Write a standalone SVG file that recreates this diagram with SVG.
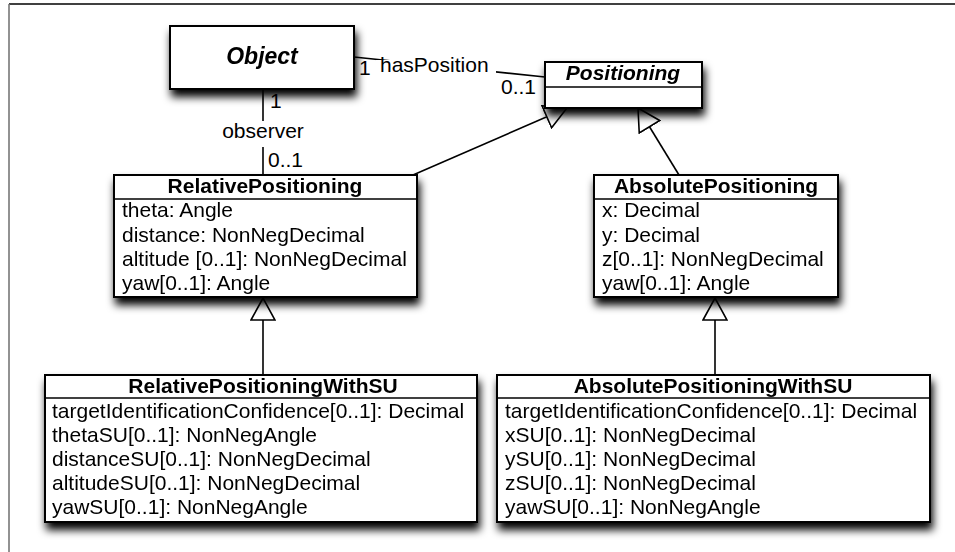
<svg xmlns="http://www.w3.org/2000/svg" width="955" height="552" viewBox="0 0 955 552">
  <defs>
    <style>
      .box { fill: #ffffff; stroke: #000000; stroke-width: 2; }
      .sep { stroke: #000000; stroke-width: 1.6; }
      .title { font-family: "Liberation Sans", Arial, sans-serif; font-size: 21px; font-weight: bold; text-anchor: middle; fill: #000; }
      .abstract { font-style: italic; }
      .attr { font-family: "Liberation Sans", Arial, sans-serif; font-size: 21px; fill: #000; }
      .lbl { font-family: "Liberation Sans", Arial, sans-serif; font-size: 21px; fill: #000; }
      .edge { stroke: #000000; stroke-width: 1.6; fill: none; }
    </style>
    <filter id="shadow" x="-20%" y="-30%" width="140%" height="180%">
      <feGaussianBlur in="SourceAlpha" stdDeviation="4.5"/>
      <feOffset dx="2" dy="7" result="blur"/>
      <feComponentTransfer><feFuncA type="linear" slope="1"/></feComponentTransfer>
      <feMerge><feMergeNode/><feMergeNode in="SourceGraphic"/></feMerge>
    </filter>
    <!-- hollow generalization head -->
    <marker id="gen" viewBox="0 0 24 26" refX="23" refY="13" markerWidth="24" markerHeight="26" markerUnits="userSpaceOnUse" orient="auto">
      <path d="M1,1 L23,13 L1,25 Z" fill="#ffffff" stroke="#000000" stroke-width="1.6"/>
    </marker>
  </defs>

  <rect width="955" height="552" fill="#ffffff"/>

  <!-- diagram frame -->
  <line x1="9" y1="4" x2="955" y2="4" stroke="#000" stroke-width="1.6"/>
  <line x1="9" y1="4" x2="9" y2="552" stroke="#777" stroke-width="1.6"/>

  <!-- connectors -->
  <g id="connectors">
    <!-- hasPosition association -->
    <line class="edge" x1="354" y1="57" x2="545" y2="77"/>
    <rect x="376" y="60" width="120" height="20" fill="#ffffff"/>
    <text class="lbl" x="380" y="72">hasPosition</text>
    <text class="lbl" x="359" y="75">1</text>
    <text class="lbl" x="501" y="94">0..1</text>

    <!-- observer association -->
    <line class="edge" x1="263" y1="89" x2="263" y2="121"/>
    <line class="edge" x1="263" y1="147" x2="263" y2="175"/>
    <text class="lbl" x="263" y="138" text-anchor="middle">observer</text>
    <text class="lbl" x="270" y="108">1</text>
    <text class="lbl" x="268" y="167">0..1</text>

    <!-- generalizations -->
    <line class="edge" x1="413" y1="175" x2="567" y2="108" marker-end="url(#gen)"/>
    <line class="edge" x1="679" y1="175" x2="638" y2="108" marker-end="url(#gen)"/>
    <line class="edge" x1="263" y1="375" x2="263" y2="298" marker-end="url(#gen)"/>
    <line class="edge" x1="715" y1="375" x2="715" y2="298" marker-end="url(#gen)"/>
  </g>

  <g id="Object" filter="url(#shadow)">
    <rect class="box" x="170" y="26" width="184" height="63"/>
    <text class="title abstract" x="262" y="64" style="font-size:23px">Object</text>
  </g>

  <g id="Positioning" filter="url(#shadow)">
    <rect class="box" x="545" y="62" width="157" height="46"/>
    <line class="sep" x1="545" y1="87" x2="702" y2="87"/>
    <text class="title abstract" x="623" y="80">Positioning</text>
  </g>

  <g id="RelativePositioning" filter="url(#shadow)">
    <rect class="box" x="114" y="175" width="303" height="122"/>
    <line class="sep" x1="114" y1="199" x2="417" y2="199"/>
    <text class="title" x="265" y="193">RelativePositioning</text>
    <text class="attr" x="122" y="217">theta: Angle</text>
    <text class="attr" x="122" y="242">distance: NonNegDecimal</text>
    <text class="attr" x="122" y="266">altitude [0..1]: NonNegDecimal</text>
    <text class="attr" x="122" y="290">yaw[0..1]: Angle</text>
  </g>

  <g id="AbsolutePositioning" filter="url(#shadow)">
    <rect class="box" x="594" y="175" width="244" height="122"/>
    <line class="sep" x1="594" y1="199" x2="838" y2="199"/>
    <text class="title" x="716" y="193">AbsolutePositioning</text>
    <text class="attr" x="602" y="217">x: Decimal</text>
    <text class="attr" x="602" y="242">y: Decimal</text>
    <text class="attr" x="602" y="266">z[0..1]: NonNegDecimal</text>
    <text class="attr" x="602" y="290">yaw[0..1]: Angle</text>
  </g>

  <g id="RelativePositioningWithSU" filter="url(#shadow)">
    <rect class="box" x="45" y="375" width="432" height="147"/>
    <line class="sep" x1="45" y1="398" x2="477" y2="398"/>
    <text class="title" x="263" y="393">RelativePositioningWithSU</text>
    <text class="attr" x="52" y="418">targetIdentificationConfidence[0..1]: Decimal</text>
    <text class="attr" x="52" y="442">thetaSU[0..1]: NonNegAngle</text>
    <text class="attr" x="52" y="466">distanceSU[0..1]: NonNegDecimal</text>
    <text class="attr" x="52" y="490">altitudeSU[0..1]: NonNegDecimal</text>
    <text class="attr" x="52" y="514">yawSU[0..1]: NonNegAngle</text>
  </g>

  <g id="AbsolutePositioningWithSU" filter="url(#shadow)">
    <rect class="box" x="497" y="375" width="433" height="147"/>
    <line class="sep" x1="497" y1="398" x2="930" y2="398"/>
    <text class="title" x="713" y="393">AbsolutePositioningWithSU</text>
    <text class="attr" x="505" y="418">targetIdentificationConfidence[0..1]: Decimal</text>
    <text class="attr" x="505" y="442">xSU[0..1]: NonNegDecimal</text>
    <text class="attr" x="505" y="466">ySU[0..1]: NonNegDecimal</text>
    <text class="attr" x="505" y="490">zSU[0..1]: NonNegDecimal</text>
    <text class="attr" x="505" y="514">yawSU[0..1]: NonNegAngle</text>
  </g>
</svg>
